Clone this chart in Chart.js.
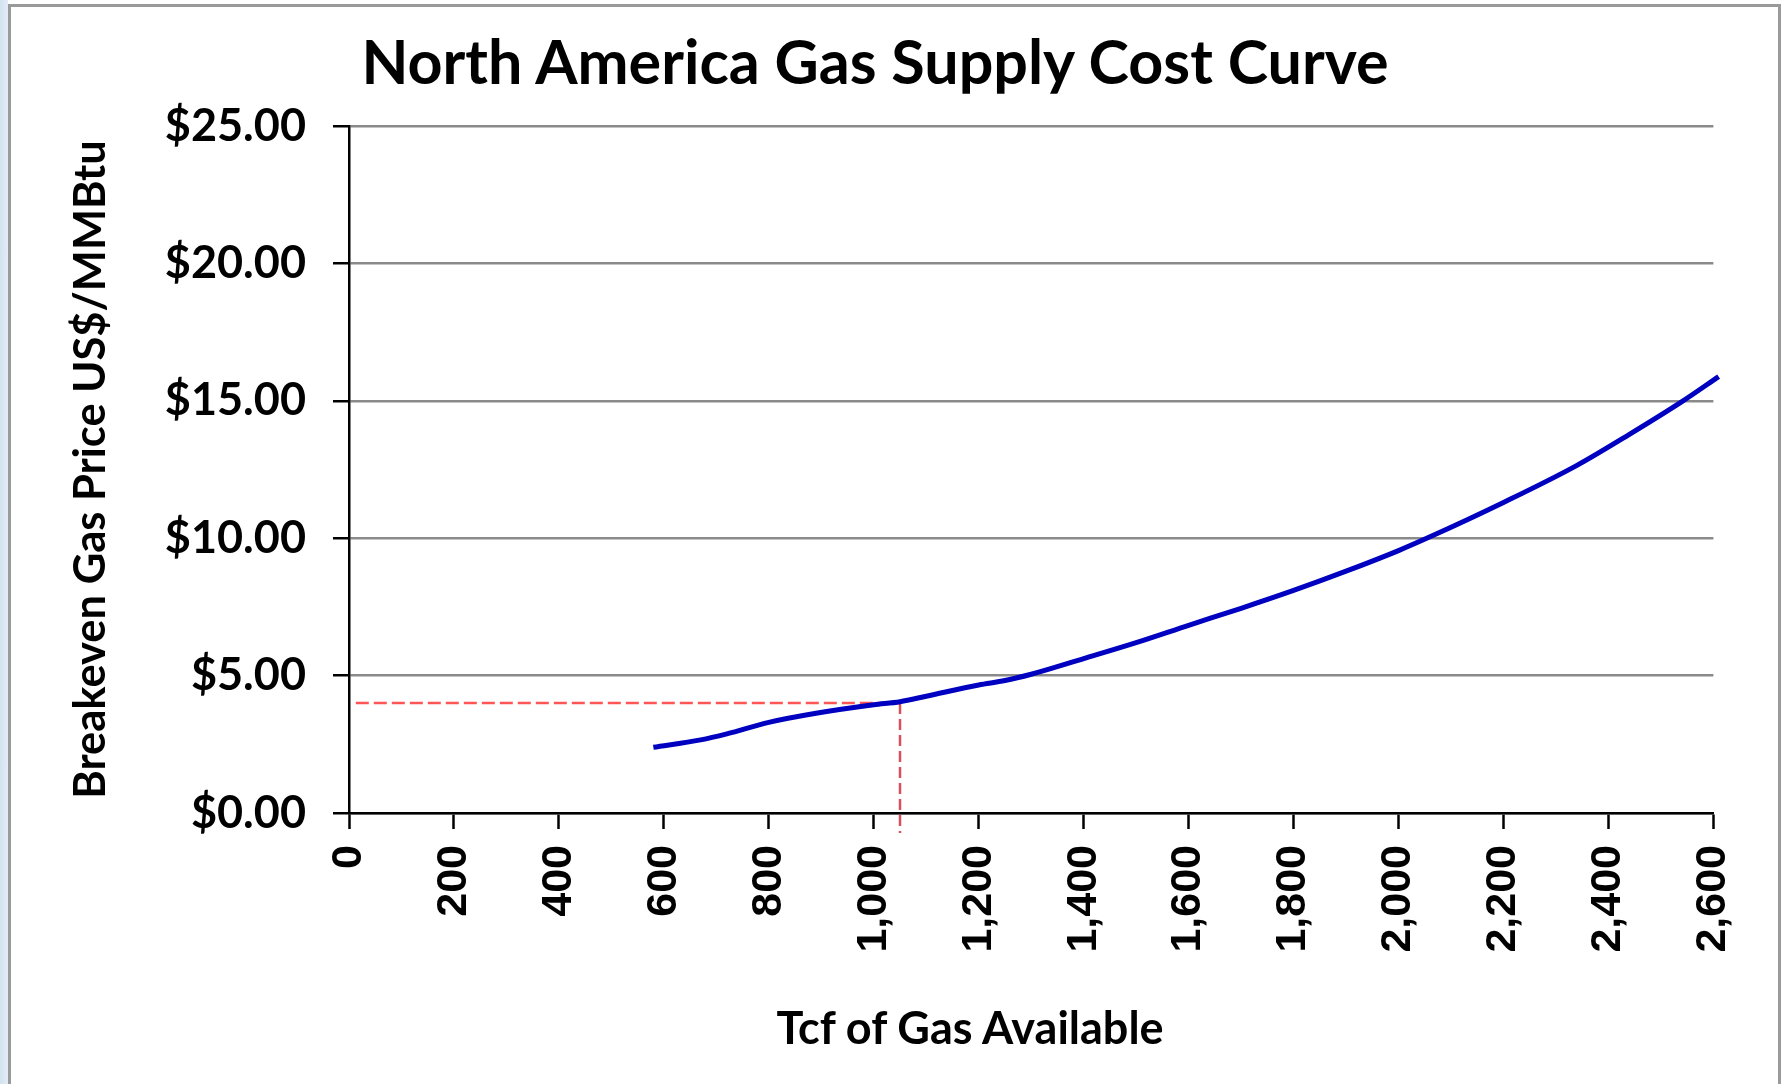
<!DOCTYPE html>
<html>
<head>
<meta charset="utf-8">
<script src="https://cdn.jsdelivr.net/npm/chart.js@4.4.1/dist/chart.umd.min.js"></script>
<style>
    html, body { margin: 0; padding: 0; overflow: hidden; }
    body {
        width: 1781px; height: 1084px; position: relative;
        background: linear-gradient(to right, #d3e2f0 0px, #e2ecf6 8px, #ffffff 8px);
    }
    #frame {
        position: absolute; left: 8px; top: 4px; width: 1767px; height: 1100px;
        border: 3px solid #9a9a9a; border-bottom: none; background: #fff;
    }
    #wrap { position: absolute; left: 0; top: 0; width: 1781px; height: 1084px; }
    .ttl { position: absolute; font-family: Lato, "Open Sans", sans-serif; font-weight: bold; color: #000; text-align: center; white-space: nowrap; }
</style>
</head>
<body>
<div id="frame"></div>
<div id="wrap"><canvas id="chart"></canvas></div>
<div class="ttl" id="title" style="left:275px; width:1200px; top:30px; font-size:61px; line-height:61px;">North America Gas Supply Cost Curve</div>
<div class="ttl" id="xtitle" style="left:670px; width:600px; top:1005px; font-size:45px; line-height:45px;">Tcf of Gas Available</div>
<script>
// supply curve (Tcf, US$/MMBtu)
const tcf = [580, 670, 720, 800, 890, 1000, 1050, 1100, 1200, 1250, 1300, 1400, 1500, 1600, 1700, 1800, 1900, 2000, 2060, 2200, 2340, 2440, 2540, 2610];
const price = [2.39, 2.66, 2.88, 3.30, 3.63, 3.94, 4.05, 4.25, 4.66, 4.82, 5.05, 5.62, 6.20, 6.83, 7.45, 8.10, 8.80, 9.55, 10.05, 11.30, 12.65, 13.78, 14.97, 15.88];

// dashed marker at ~1,050 Tcf / $4.00
const markX = [13, 1050];
const markY = [4.0, 4.0];
const dropX = [1050, 1050];
const dropY = [4.0, -0.73];

const xTicks = [0, 200, 400, 600, 800, 1000, 1200, 1400, 1600, 1800, 2000, 2200, 2400, 2600];
const yTicks = [0, 5, 10, 15, 20, 25];

const toPts = (xs, ys) => xs.map((x, i) => ({ x: x, y: ys[i] }));

new Chart(document.getElementById("chart"), {
    type: 'line',
    data: {
        datasets: [
            {
                data: toPts(tcf, price),
                borderColor: '#0000c0',
                borderWidth: 5,
                pointRadius: 0,
                cubicInterpolationMode: 'monotone',
                clip: false,
                order: 0
            },
            {
                data: toPts(markX, markY),
                borderColor: '#ff5555',
                borderWidth: 2.5,
                borderDash: [13, 5],
                pointRadius: 0,
                order: 1
            },
            {
                data: toPts(dropX, dropY),
                borderColor: '#d8505c',
                borderWidth: 2.5,
                borderDash: [11, 5],
                pointRadius: 0,
                clip: false,
                order: 1
            }
        ]
    },
    options: {
        responsive: true,
        maintainAspectRatio: false,
        animation: false,
        layout: { padding: { left: 0, top: 126, right: 66, bottom: 0 } },
        plugins: {
            legend: { display: false },
            tooltip: { enabled: false }
        },
        scales: {
            x: {
                type: 'linear',
                min: 0,
                max: 2600,
                afterFit: (s) => { s.height = 1084 - 813; },
                afterBuildTicks: (s) => { s.ticks = xTicks.map(v => ({ value: v })); },
                border: { color: '#000', width: 2.5 },
                grid: { drawOnChartArea: false, drawTicks: true, tickLength: 16, tickColor: '#000', tickWidth: 2.5 },
                ticks: {
                    autoSkip: false,
                    minRotation: 90,
                    maxRotation: 90,
                    padding: 16,
                    color: '#000',
                    font: { family: '"Liberation Sans", Arial, sans-serif', weight: 'bold', size: 43 },
                    callback: (v) => v.toLocaleString('en-US')
                }
            },
            y: {
                min: 0,
                max: 25,
                afterFit: (s) => { s.width = 349; },
                afterBuildTicks: (s) => { s.ticks = yTicks.map(v => ({ value: v })); },
                border: { color: '#000', width: 2.5 },
                grid: { color: '#8a8a8a', lineWidth: 2.5, tickLength: 16, tickColor: '#000', tickWidth: 2.5 },
                ticks: {
                    padding: 27,
                    color: '#000',
                    font: { family: 'Lato, "Open Sans", sans-serif', weight: 'bold', size: 45 },
                    callback: (v) => '$' + v.toFixed(2)
                },
                title: {
                    display: true,
                    text: 'Breakeven Gas Price US$/MMBtu',
                    color: '#000',
                    font: { family: 'Lato, "Open Sans", sans-serif', weight: 'bold', size: 43.5 },
                    padding: { top: 65, bottom: 0 }
                }
            }
        }
    }
});
</script>
</body>
</html>
